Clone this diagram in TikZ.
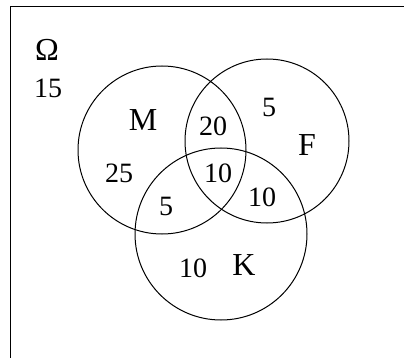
\documentclass[tikz,border=0pt]{standalone}
\usepackage{fontspec}
\setmainfont{Liberation Serif}
\begin{document}
\begin{tikzpicture}[x=1pt,y=-1pt,
  setc/.style={draw=black,line width=1pt},
  num/.style={inner sep=0pt,font=\fontsize{28}{30}\selectfont},
  lab/.style={inner sep=0pt,font=\fontsize{32}{34}\selectfont}]
\useasboundingbox (0,0) rectangle (404,358);
\begin{scope}
\clip (0,0) rectangle (404,358);
\draw[line width=1pt] (10,7) rectangle (420,380);
\end{scope}
\node[setc,circle,minimum size=168pt,inner sep=0pt] (M) at (162,150) {};
\node[setc,circle,minimum size=164pt,inner sep=0pt] (F) at (267,141) {};
\node[setc,circle,minimum size=172pt,inner sep=0pt] (K) at (221,234) {};
\node[lab] (omega) at (47,50) {Ω};
\node[num] (n15) at (48,88) {15};
\node[lab] (lM) at (143,120) {M};
\node[lab] (lF) at (307,145) {F};
\node[lab] (lK) at (244,265) {K};
\node[num] (n20) at (213,126) {20};
\node[num] (n5a) at (269,107) {5};
\node[num] (n25) at (119,173) {25};
\node[num] (n10c) at (218,173) {10};
\node[num] (n5b) at (166,206) {5};
\node[num] (n10r) at (262,197) {10};
\node[num] (n10b) at (193,268) {10};
\end{tikzpicture}
\end{document}
